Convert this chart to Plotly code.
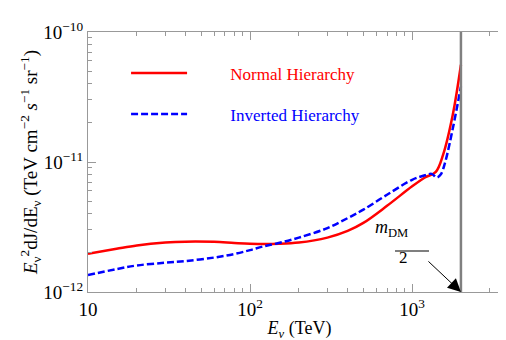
import plotly.graph_objects as go

# Neutrino energy (TeV) and E^2 dJ/dE flux for the two hierarchies
E_NORMAL = [10, 15, 20, 30, 40, 60, 80, 100, 150, 200, 300, 400, 500, 700,
            1000, 1200, 1400, 1550, 1780, 2000]
FLUX_NORMAL = [1.97e-12, 2.15e-12, 2.28e-12, 2.4e-12, 2.44e-12, 2.43e-12, 2.38e-12,
               2.35e-12, 2.35e-12, 2.4e-12, 2.62e-12, 2.95e-12, 3.4e-12, 4.6e-12,
               6.5e-12, 7.6e-12, 8.4e-12, 1.13e-11, 2.3e-11, 5.6e-11]

E_INVERTED = [10, 15, 20, 30, 40, 60, 80, 100, 120, 150, 200, 300, 400, 500, 700,
              1000, 1200, 1320, 1420, 1500, 1600, 1780, 2000]
FLUX_INVERTED = [1.35e-12, 1.5e-12, 1.6e-12, 1.68e-12, 1.73e-12, 1.84e-12, 1.96e-12,
                 2.1e-12, 2.24e-12, 2.38e-12, 2.62e-12, 3.1e-12, 3.7e-12, 4.3e-12,
                 5.6e-12, 7.3e-12, 7.9e-12, 8.1e-12, 7.6e-12, 8.0e-12, 1.0e-11,
                 1.8e-11, 3.8e-11]

M_HALF = 2000  # m_DM / 2 in TeV

X_TICKS = [10, 100, 1000]
X_TICKTEXT = ['10', '10<sup>2</sup>', '10<sup>3</sup>']
Y_TICKS = [1e-12, 1e-11, 1e-10]
Y_TICKTEXT = ['10<sup>\u221212</sup>', '10<sup>\u221211</sup>', '10<sup>\u221210</sup>']

X_MINOR = [m * 10 ** d for d in (1, 2, 3) for m in range(2, 10)]
Y_MINOR = [m * 10.0 ** d for d in (-12, -11) for m in range(2, 10)]

SERIF = 'Liberation Serif, Times New Roman, serif'
NB = '\u00a0' * 9

fig = go.Figure()

fig.add_trace(go.Scatter(x=E_NORMAL, y=FLUX_NORMAL, mode='lines', line_shape='spline',
                         line=dict(color='#ff0000', width=2.5),
                         name=NB + '<span style="color:#ff0000">Normal Hierarchy</span>',
                         legendgroup='a'))
fig.add_trace(go.Scatter(x=E_INVERTED, y=FLUX_INVERTED, mode='lines', line_shape='spline',
                         line=dict(color='#0000ff', width=2.5, dash='7px,3px'),
                         name=NB + '<span style="color:#0000ff">Inverted Hierarchy</span>',
                         legendgroup='b'))

# vertical line at m_DM/2
fig.add_shape(type='line', xref='x', yref='paper', x0=M_HALF, x1=M_HALF, y0=0, y1=1,
              line=dict(color='#808080', width=2.5))

# fraction label m_DM / 2 with arrow
fig.add_annotation(x=3.30103, y=-12, xref='x', yref='y', ax=-34, ay=-32,
                   text='', showarrow=True, arrowhead=2, arrowsize=2.6, arrowwidth=1,
                   arrowcolor='black')
fig.add_annotation(x=(402 - 80) / 423, y=(284 - 234) / 260, xref='paper', yref='paper',
                   text='<i>m</i><sub>DM</sub>', showarrow=False,
                   font=dict(family=SERIF, size=18, color='black'))
fig.add_shape(type='line', xref='paper', yref='paper',
              x0=(387 - 80) / 423, x1=(421 - 80) / 423,
              y0=(284 - 243) / 260, y1=(284 - 243) / 260,
              line=dict(color='#555555', width=1.5))
fig.add_annotation(x=(402 - 80) / 423, y=(284 - 261) / 260, xref='paper', yref='paper',
                   text='2', showarrow=False,
                   font=dict(family=SERIF, size=17, color='black'))

axis_common = dict(showline=True, linecolor='#999999', linewidth=1.2, mirror='allticks',
                   ticks='inside', ticklen=8, tickcolor='#999999', showgrid=False,
                   zeroline=False, tickfont=dict(family=SERIF, size=19, color='black'))

fig.update_xaxes(type='log', range=[1, 3.61], tickvals=X_TICKS, ticktext=X_TICKTEXT,
                 minor=dict(tickvals=X_MINOR, ticks='inside', ticklen=4,
                            tickcolor='#999999', showgrid=False),
                 title=dict(text='<i>E<sub>\u03bd</sub></i> (TeV)', standoff=2,
                            font=dict(family=SERIF, size=18, color='black')),
                 **axis_common)
fig.update_yaxes(type='log', range=[-12, -10], tickvals=Y_TICKS, ticktext=Y_TICKTEXT,
                 minor=dict(tickvals=Y_MINOR, ticks='inside', ticklen=4,
                            tickcolor='#999999', showgrid=False),
                 title=dict(text='<i>E</i><sub>\u03bd</sub><sup>2</sup>dJ/dE<sub>\u03bd</sub> '
                                 '(TeV cm<sup>\u22122</sup> <i>s</i><sup>\u22121</sup> '
                                 'sr<sup>\u22121</sup>)',
                            standoff=0, font=dict(family=SERIF, size=19, color='black')),
                 **axis_common)

fig.update_layout(
    width=506, height=340,
    margin=dict(l=80, r=3, t=24, b=56),
    plot_bgcolor='white', paper_bgcolor='white',
    font=dict(family=SERIF),
    showlegend=True,
    legend=dict(x=0.09, y=0.91, xanchor='left', yanchor='top', bgcolor='rgba(0,0,0,0)',
                traceorder='grouped', tracegroupgap=16, itemwidth=56,
                font=dict(family=SERIF, size=17)),
)

fig.write_html('out.html')
